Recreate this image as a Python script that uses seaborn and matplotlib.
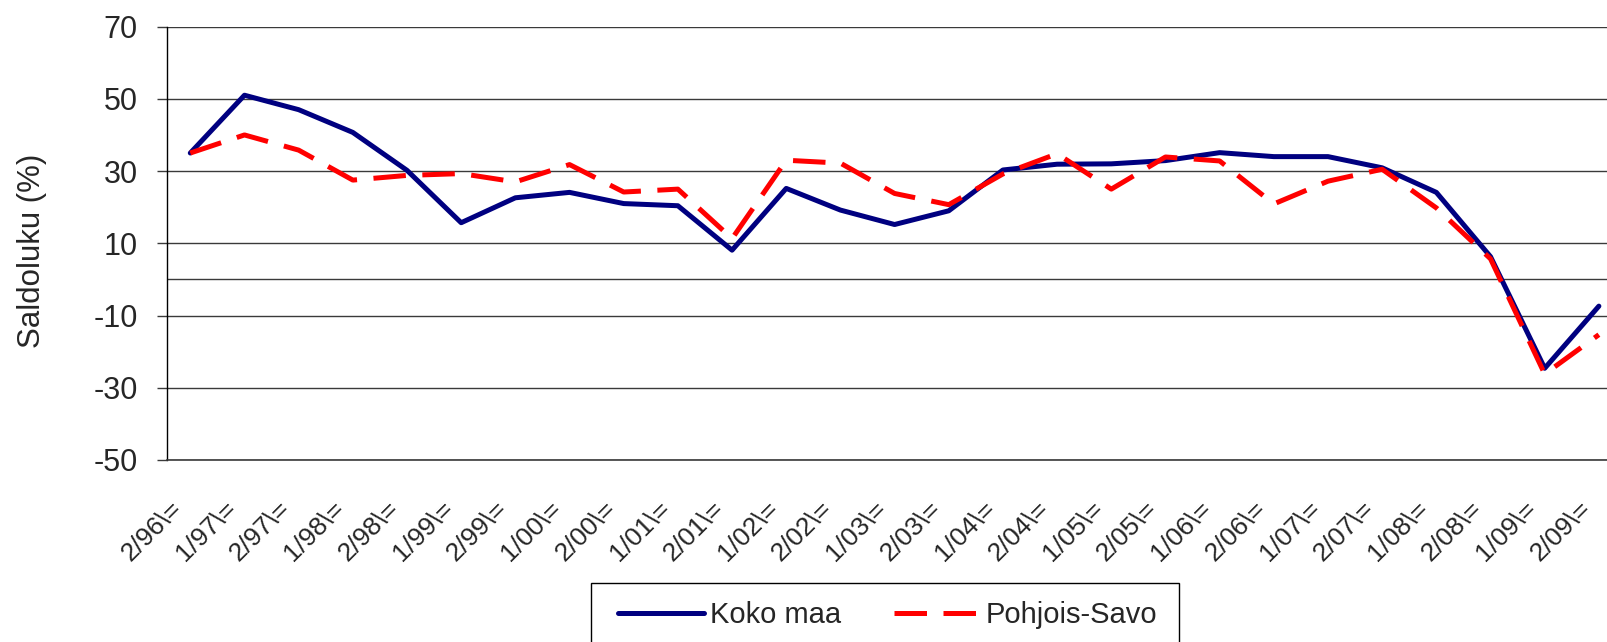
import pandas as pd
import numpy as np
import matplotlib.pyplot as plt
import matplotlib.transforms as mtransforms
from matplotlib.patches import Rectangle
import seaborn as sns

periods = ['2/96', '1/97', '2/97', '1/98', '2/98', '1/99', '2/99', '1/00', '2/00',
           '1/01', '2/01', '1/02', '2/02', '1/03', '2/03', '1/04', '2/04', '1/05',
           '2/05', '1/06', '2/06', '1/07', '2/07', '1/08', '2/08', '1/09', '2/09']
koko_maa = [35, 51, 47, 40.7, 30.2, 15.7, 22.6, 24.1, 21.0, 20.4, 8.1, 25.2, 19.2, 15.2,
            19.0, 30.3, 31.9, 32.0, 32.9, 35.1, 34.0, 34.0, 30.9, 24.1, 6.3, -24.6, -7.4]
pohjois_savo = [35, 40, 35.8, 27.5, 28.8, 29.3, 27.0, 31.8, 24.2, 25.0, 11.3, 33.0, 32.2, 23.8,
                20.7, 29.2, 34.8, 25.0, 33.9, 32.8, 20.9, 27.2, 30.5, 19.8, 5.7, -26.2, -15.3]
tick_labels = [p + '\\=' for p in periods]
y_ticks = [-50, -30, -10, 10, 30, 50, 70]

df = pd.DataFrame({
    'x': list(range(len(periods))) * 2,
    'value': koko_maa + pohjois_savo,
    'series': ['Koko maa'] * len(periods) + ['Pohjois-Savo'] * len(periods),
})

sns.set_style('white')
plt.rcParams['font.family'] = ['Liberation Sans', 'DejaVu Sans']
plt.rcParams['axes.unicode_minus'] = False

fig = plt.figure(figsize=(16.07, 6.42), dpi=100)
ax = fig.add_axes([167 / 1607, 1 - 460 / 642, 1 - 167 / 1607, (460 - 26.6) / 642])

for y in y_ticks + [0]:
    ax.axhline(y, color='#3a3a3a', lw=1.0, zorder=1)

sns.lineplot(data=df, x='x', y='value', hue='series', style='series',
             palette={'Koko maa': '#000080', 'Pohjois-Savo': '#ff0000'},
             dashes={'Koko maa': '', 'Pohjois-Savo': (6.5, 3.3)},
             linewidth=3.6, ax=ax, legend=False, zorder=3)

ax.set_xlim(-0.43, 26.15)
ax.set_ylim(-50, 70)
ax.set_yticks(y_ticks)
ax.set_xticks(range(len(periods)))
ax.set_xticklabels(tick_labels, rotation=45, ha='right', va='center',
                   rotation_mode='anchor', fontsize=19)
ax.tick_params(axis='x', length=0, pad=32)
ax.tick_params(axis='y', length=7, width=1, color='#3a3a3a', direction='out',
               pad=14, labelsize=22, left=True)
offset = mtransforms.ScaledTranslation(-0.12, 0, fig.dpi_scale_trans)
for lbl in ax.get_xticklabels():
    lbl.set_transform(lbl.get_transform() + offset)

for side in ['top', 'right']:
    ax.spines[side].set_visible(False)
ax.spines['left'].set_color('black')
ax.spines['left'].set_linewidth(1.0)
ax.spines['bottom'].set_color('#3a3a3a')
ax.spines['bottom'].set_linewidth(1.2)

ax.set_xlabel('')
ax.set_ylabel('Saldoluku (%)', fontsize=22.5)
ax.yaxis.set_label_coords(-0.083, 0.482)

# legend box runs off the bottom edge like in the original
fig.patches.append(Rectangle((591 / 1607, -0.05), (1179 - 591) / 1607, 0.05 + 1 - 583 / 642,
                             transform=fig.transFigure, fill=False, edgecolor='black', lw=1.0))
handles = [plt.Line2D([], [], color='#000080', lw=3.6),
           plt.Line2D([], [], color='#ff0000', lw=3.6, dashes=(6.5, 3.3))]
leg = fig.legend(handles, ['Koko maa', 'Pohjois-Savo'], ncol=2, fontsize=21,
                 loc='center left', bbox_to_anchor=(618 / 1607, 1 - 615 / 642),
                 frameon=False, handlelength=2.95, handletextpad=0.2,
                 columnspacing=1.8, borderpad=0, borderaxespad=0)

fig.savefig('out.png', dpi=100)
